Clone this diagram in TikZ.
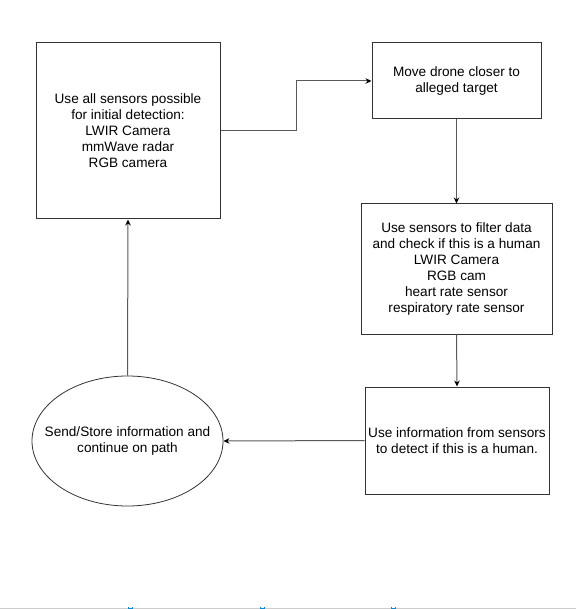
\documentclass[tikz,border=0pt]{standalone}
\usepackage{fontspec}
\setmainfont{Liberation Sans}
\usetikzlibrary{arrows.meta,shapes.geometric}
\begin{document}
\begin{tikzpicture}[x=1pt,y=-1pt,
  every node/.style={font=\fontsize{13.6}{16}\selectfont, align=center, inner sep=0pt},
  stepbox/.style={draw=black!80, line width=1pt, rectangle},
  endshape/.style={draw=black!80, line width=0.8pt, ellipse, inner sep=0pt},
  flow/.style={draw=black!65, line width=1pt, -{Stealth[length=6pt,width=5.5pt,black]}}]
  \useasboundingbox (0,0) rectangle (576,609);
  % process steps
  \node[stepbox, minimum width=184pt, minimum height=176pt] (detect) at (128,131)
    {Use all sensors possible\\for initial detection:\\LWIR Camera\\mmWave radar\\RGB camera};
  \node[stepbox, minimum width=169pt, minimum height=76pt] (move) at (456.5,81)
    {Move drone closer to\\alleged target};
  \node[stepbox, minimum width=191pt, minimum height=130pt] (filter) at (456.5,269)
    {Use sensors to filter data\\and check if this is a human\\LWIR Camera\\RGB cam\\heart rate sensor\\respiratory rate sensor};
  \node[stepbox, minimum width=184pt, minimum height=107pt] (decide) at (457,440.5)
    {Use information from sensors\\to detect if this is a human.};
  % final step: outline and its label
  \node[endshape, minimum width=191pt, minimum height=130pt] (send) at (127.5,441) {};
  \node (sendtext) at (127.5,441) {Send/Store information and\\continue on path};
  % connectors
  \coordinate (bend1) at (296,131);
  \coordinate (bend2) at (296,81);
  \draw[flow] (detect.east) -- (bend1) -- (bend2) -- (move.west);
  \draw[flow] (move.south) -- (filter.north);
  \draw[flow] (filter.south) -- (decide.north);
  \draw[flow] (decide.west) -- (send.east);
  \draw[flow] (send.north) -- (detect.south);
  % page edge with markers
  \coordinate (edgeL) at (0,608);
  \coordinate (edgeR) at (576,608);
  \draw[black!20, line width=1pt] (edgeL) -- (edgeR);
  \foreach \mx in {130,262,393}
    \draw[cyan!70!blue, line width=1pt] (\mx-2,606.5) -- (\mx-2,608) -- (\mx+2,608) -- (\mx+2,606.5);
\end{tikzpicture}
\end{document}
